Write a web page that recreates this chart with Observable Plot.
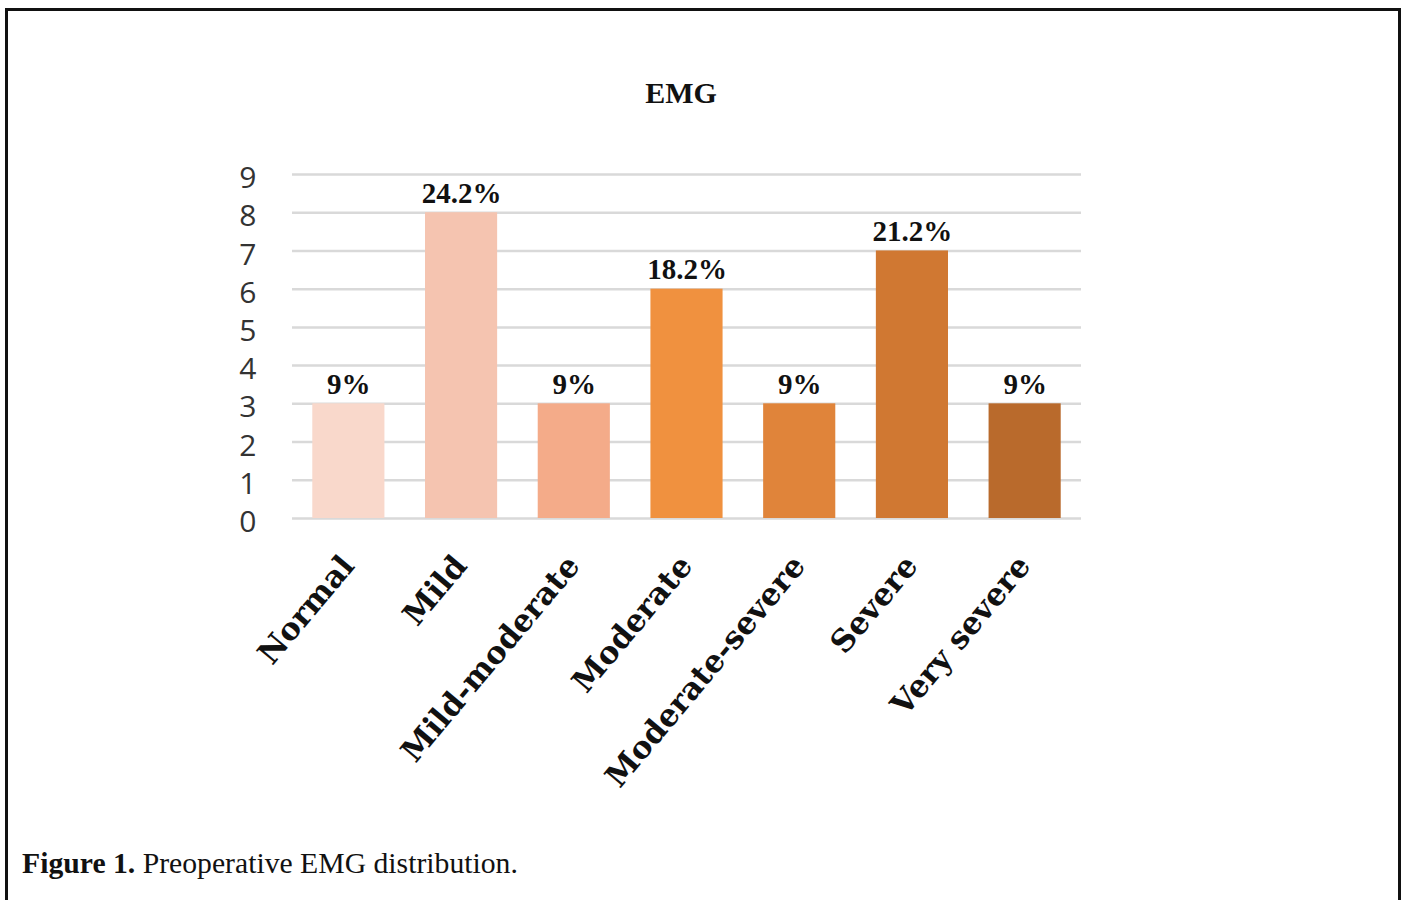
<!DOCTYPE html>
<html>
<head>
<meta charset="utf-8">
<script src="https://cdn.jsdelivr.net/npm/d3@7"></script>
<script src="https://cdn.jsdelivr.net/npm/@observablehq/plot@0.6"></script>
<style>
  html, body { margin: 0; padding: 0; background: #fff; width: 1403px; height: 900px; overflow: hidden; }
  #frame { position: absolute; left: 5px; top: 8px; width: 1390px; height: 1000px; border: 3px solid #111; box-sizing: content-box; }
  #title { position: absolute; left: 0; top: 76px; width: 1362px; text-align: center; font-family: "Liberation Serif", serif; font-weight: bold; font-size: 30px; color: #111; }
  #chart { position: absolute; left: 0; top: 0; }
  #caption { position: absolute; left: 22px; top: 849px; font-family: "Liberation Serif", serif; font-size: 29.7px; line-height: 29px; color: #111; }
</style>
</head>
<body>
<div id="frame"></div>
<div id="title">EMG</div>
<div id="chart"></div>
<div id="caption"><b>Figure 1.</b> Preoperative EMG distribution.</div>
<script>
const categories = ["Normal", "Mild", "Mild-moderate", "Moderate", "Moderate-severe", "Severe", "Very severe"];
const counts = [3, 8, 3, 6, 3, 7, 3];
const percentLabels = ["9%", "24.2%", "9%", "18.2%", "9%", "21.2%", "9%"];
const barColors = ["#f9d8cb", "#f5c4b0", "#f4ab89", "#f0913f", "#e0843a", "#d07832", "#b96a2c"];
const yTicks = [0, 1, 2, 3, 4, 5, 6, 7, 8, 9];

const data = categories.map((c, i) => ({category: c, count: counts[i], label: percentLabels[i]}));

const chart = Plot.plot({
  width: 1403,
  height: 800,
  marginLeft: 292,
  marginRight: 322,
  marginTop: 174,
  marginBottom: 282,
  x: {domain: categories, paddingInner: 0.36, paddingOuter: 0.18, round: false, axis: null},
  y: {domain: [0, 9], axis: null},
  color: {domain: categories, range: barColors},
  style: {background: "none", color: "#333", overflow: "visible"},
  marks: [
    Plot.gridY(yTicks, {stroke: "#d9d9d9", strokeOpacity: 1, strokeWidth: 2.5}),
    Plot.barY(data, {x: "category", y: "count", fill: "category"}),
    Plot.axisY(yTicks, {label: null, tickSize: 0, tickPadding: 36, fontSize: 30, fontFamily: "Open Sans", dy: 4}),
    Plot.text(data, {x: "category", y: "count", text: "label", dy: -10, lineAnchor: "bottom",
      fontSize: 29, fontFamily: "Liberation Serif", fontWeight: "bold", fill: "#111"}),
    Plot.text(categories, {x: d => d, text: d => d, frameAnchor: "bottom", rotate: -50,
      textAnchor: "end", lineAnchor: "top", dx: -10, dy: 34,
      fontSize: 31, fontFamily: "DejaVu Serif", fontWeight: "bold", fill: "#111"})
  ]
});
document.getElementById("chart").appendChild(chart);
</script>
</body>
</html>
